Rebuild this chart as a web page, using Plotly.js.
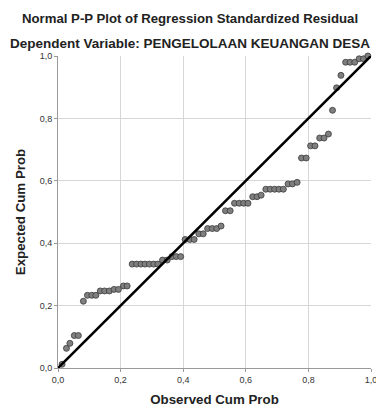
<!DOCTYPE html>
<html>
<head>
<meta charset="utf-8">
<script src="https://cdn.plot.ly/plotly-3.0.1.min.js"></script>
<style>html,body{margin:0;padding:0;background:#fff;}#chart{width:376px;height:407px;}</style>
</head>
<body>
<div id="chart"></div>
<script>
var observedCumProb = [0.013,0.027,0.038,0.052,0.065,0.081,0.094,0.108,0.121,0.135,0.149,0.164,0.179,0.193,0.209,0.221,
  0.237,0.251,0.265,0.278,0.292,0.306,0.319,0.334,0.349,0.364,0.378,0.392,0.406,0.421,0.435,0.450,0.464,0.478,0.493,0.507,
  0.521,0.535,0.550,0.564,0.579,0.593,0.607,0.622,0.636,0.649,0.664,0.678,0.692,0.706,0.720,0.735,0.749,0.764,0.778,0.793,
  0.807,0.821,0.836,0.850,0.864,0.877,0.890,0.904,0.919,0.933,0.948,0.962,0.976,0.990];
var expectedCumProb = [0.012,0.063,0.079,0.104,0.104,0.214,0.233,0.233,0.233,0.247,0.247,0.247,0.252,0.252,0.263,0.263,
  0.333,0.333,0.333,0.333,0.333,0.333,0.333,0.346,0.346,0.357,0.357,0.357,0.412,0.412,0.412,0.430,0.430,0.447,0.447,0.447,
  0.455,0.504,0.504,0.528,0.528,0.528,0.528,0.549,0.549,0.554,0.573,0.573,0.573,0.573,0.573,0.590,0.590,0.595,0.673,0.673,
  0.712,0.712,0.737,0.737,0.750,0.826,0.898,0.938,0.980,0.980,0.980,0.991,0.991,1.000];
var tickValues = [0, 0.2, 0.4, 0.6, 0.8, 1.0];
var tickLabels = ["0,0", "0,2", "0,4", "0,6", "0,8", "1,0"];
var refLine = [0, 1];

var font = "Liberation Sans, Arial, sans-serif";
var traces = [
  {
    x: observedCumProb, y: expectedCumProb, type: "scatter", mode: "markers",
    marker: {size: 6, color: "#7f7f7f", line: {color: "#3a3a3a", width: 0.8}},
    hoverinfo: "x+y", showlegend: false, cliponaxis: false
  },
  {
    x: refLine, y: refLine, type: "scatter", mode: "lines",
    line: {color: "#000000", width: 2.6}, showlegend: false, hoverinfo: "skip", cliponaxis: false
  }
];
var axisCommon = {
  range: [0, 1], tickvals: tickValues, ticktext: tickLabels,
  showgrid: true, gridcolor: "#d6d6d6", gridwidth: 1,
  zeroline: false, showline: true, linecolor: "#9a9a9a", linewidth: 1,
  ticks: "outside", ticklen: 3, tickcolor: "#9a9a9a", ticklabeloverflow: "allow",
  tickfont: {family: font, size: 9, color: "#333333"}, fixedrange: true
};
var layout = {
  width: 376, height: 407,
  margin: {l: 58, r: 5, t: 56, b: 39},
  paper_bgcolor: "#ffffff", plot_bgcolor: "#ffffff",
  font: {family: font},
  xaxis: Object.assign({}, axisCommon, {
    title: {text: "Observed Cum Prob", font: {family: font, size: 13.3, color: "#222222", weight: "bold"}, standoff: 13}
  }),
  yaxis: Object.assign({}, axisCommon, {
    title: {text: "Expected Cum Prob", font: {family: font, size: 13.3, color: "#222222", weight: "bold"}, standoff: 11}
  }),
  annotations: [
    {text: "<b>Normal P-P Plot of Regression Standardized Residual</b>", xref: "paper", yref: "paper",
     x: 0.5, xshift: -25, y: 1, yshift: 38, xanchor: "center", yanchor: "middle", showarrow: false,
     font: {family: font, size: 13.2, color: "#222222"}},
    {text: "<b>Dependent Variable: PENGELOLAAN KEUANGAN DESA</b>", xref: "paper", yref: "paper",
     x: 0.5, xshift: -25, y: 1, yshift: 13, xanchor: "center", yanchor: "middle", showarrow: false,
     font: {family: font, size: 13.5, color: "#222222"}}
  ]
};
Plotly.newPlot("chart", traces, layout, {displayModeBar: false, staticPlot: true});
</script>
</body>
</html>
